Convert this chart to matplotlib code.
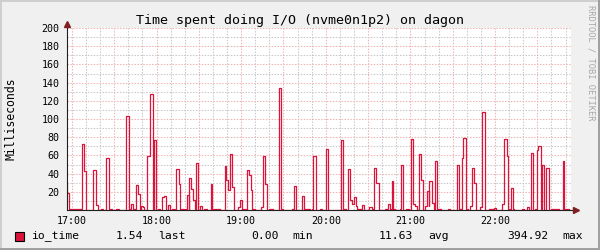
import numpy as np
import matplotlib
matplotlib.use("Agg")
import matplotlib.pyplot as plt
from matplotlib.patches import Rectangle
from matplotlib.lines import Line2D
from matplotlib.ticker import FixedLocator, FuncFormatter

# io_time samples: minutes after 17:00 where the value changes, and the value (ms)
minutes = [-4.3, -3.3, -1.9, 7.1, 8.7, 9.9, 15.1, 16.8, 18.2, 20.8, 22.2, 24.3, 26.0, 27.2, 28.4,
           31.4, 33.1, 38.3, 40.2, 41.6, 43.0, 44.2, 45.4, 46.8, 48.2, 49.1, 50.4, 51.3, 53.4,
           55.5, 57.2, 58.2, 59.6, 61.0, 62.6, 63.8, 65.0, 66.5, 68.1, 69.7, 70.9, 72.1, 72.8,
           73.8, 75.7, 76.8, 77.5, 79.2, 80.4, 81.3, 82.8, 83.2, 84.6, 86.0, 87.0, 87.9, 89.6,
           91.0, 92.4, 93.6, 95.5, 98.6, 99.5, 105.2, 108.5, 109.4, 110.6, 111.8, 113.7, 114.7,
           117.7, 119.1, 120.8, 123.2, 124.3, 125.5, 126.7, 127.4, 128.4, 129.8, 133.8, 135.5,
           136.9, 138.1, 139.7, 142.8, 146.8, 148.4, 149.6, 156.2, 157.4, 158.9, 163.1, 164.8,
           168.8, 170.4, 171.1, 172.8, 175.9, 177.1, 180.4, 181.8, 190.8, 192.4, 194.3, 195.7,
           197.0, 198.4, 199.8, 201.4, 202.3, 205.7, 207.3, 210.4, 213.0, 214.2, 215.6, 217.5,
           222.0, 224.1, 225.5, 226.7, 227.9, 229.1, 232.6, 233.3, 234.8, 236.9, 238.8, 240.4,
           242.1, 243.3, 244.5, 245.9, 247.5, 249.1, 250.6, 251.8, 253.0, 253.4, 255.1, 256.5,
           257.4, 259.1, 261.5, 266.5, 268.3, 273.0, 274.3, 275.4, 276.4, 277.5, 279.4, 280.6,
           282.1, 283.5, 284.9, 286.5, 289.4, 290.8, 293.1, 296.0, 299.1, 300.9, 305.0, 306.6,
           308.3, 309.2, 310.4, 311.3, 312.8, 313.7, 319.1, 320.8, 322.7, 324.3, 325.3, 326.7,
           328.6, 329.8, 330.7, 332.4, 333.3, 334.5, 336.4, 338.1, 339.9, 345.2, 348.0, 349.1,
           352.3]
io_time = [29, 19, 1, 73, 43, 0, 44, 5, 0, 1.5, 0, 57, 0, 1.5, 0,
           1, 0, 103, 1.5, 7, 0, 1, 28, 18, 0, 4, 3, 0, 59,
           128, 0, 77, 0, 1.5, 0, 14, 15, 0, 6, 0, 1.5, 0, 1.5,
           45, 29, 0, 1.5, 0, 1.5, 17, 0, 35, 23, 11, 0, 52, 0,
           4, 0, 1, 0, 29, 1, 0, 48, 33, 22, 61, 25, 0,
           3, 11, 1, 0, 44, 38, 22, 0, 1, 0, 3, 59,
           29, 0, 1, 0, 134, 1, 0, 1, 26, 0, 15, 1,
           0, 1.5, 59, 0, 1, 0, 67, 0, 77, 1, 0, 45,
           11, 7, 14, 4, 1, 5, 0, 3, 1, 46, 30, 0,
           1, 7, 1, 32, 1, 0, 1, 50, 0, 1.5, 0, 78,
           7, 4, 0, 61, 33, 0, 4, 21, 4, 32, 8, 1,
           54, 1, 0, 1, 0, 50, 0, 1.5, 57, 79, 1.5, 0,
           4, 46, 30, 0, 3, 108, 0, 1.5, 2, 0, 7, 78,
           59, 1, 0, 24, 1, 0, 1.5, 0, 3, 0, 63, 0,
           1.5, 66, 70, 1.5, 50, 0, 46, 0, 1, 0, 54, 1,
           1]

hour_labels = ["17:00", "18:00", "19:00", "20:00", "21:00", "22:00"]
title = "Time spent doing I/O (nvme0n1p2) on dagon"
last_val, min_val, avg_val, max_val = 1.54, 0.00, 11.63, 394.92

BACK = "#F0F0F0"
GRID = "#C8C8C8"
MGRID = "#F0B3B3"
LINE = "#DC143C"
ARROW = "#801F1F"
AXIS = "#202020"
MONO = "DejaVu Sans Mono"

W, H = 600, 250
fig = plt.figure(figsize=(W / 100, H / 100), dpi=100, facecolor=BACK)
plt.rcParams["font.family"] = MONO

# plot area in pixels
left, right, top, bottom = 66.5, 571, 28, 210
ax = fig.add_axes([left / W, 1 - bottom / H, (right - left) / W, (bottom - top) / H])
ax.set_facecolor("white")
ax.set_xlim(-3.9, 353.9)
ax.set_ylim(0, 200)
for s in ax.spines.values():
    s.set_visible(False)

# grid: minor every 10 min / 10 ms, major every 30 min / 20 ms
xmaj = np.arange(0, 360, 30)
xmin = [m for m in np.arange(0, 360, 10) if m % 30 != 0]
ymaj = np.arange(20, 201, 20)
ymin = np.arange(10, 200, 20)
dots = (0, (1.4, 1.4))
for m in xmin:
    ax.axvline(m, color=GRID, lw=0.75, ls=dots, zorder=1)
for v in ymin:
    ax.axhline(v, color=GRID, lw=0.75, ls=dots, zorder=1)
for m in xmaj:
    ax.axvline(m, color=MGRID, lw=0.75, ls=dots, zorder=1)
for v in ymaj:
    ax.axhline(v, color=MGRID, lw=0.75, ls=dots, zorder=1)

ax.xaxis.set_major_locator(FixedLocator(list(range(0, 360, 60))))
ax.xaxis.set_major_formatter(FuncFormatter(lambda m, p: hour_labels[int(m // 60)]))
ax.yaxis.set_major_locator(FixedLocator(list(ymaj)))
ax.tick_params(axis="both", length=0, labelsize=7.2, colors="black")
ax.tick_params(axis="x", pad=4)
ax.tick_params(axis="y", pad=5)

ax.step(minutes, io_time, where="post", color=LINE, lw=0.9, zorder=3)

# axes with arrows (rrdtool style)
ax.plot([0, 1.012], [0, 0], transform=ax.transAxes, color=AXIS, lw=0.8, clip_on=False, zorder=4)
ax.plot([0, 0], [0, 1.01], transform=ax.transAxes, color=AXIS, lw=0.8, clip_on=False, zorder=4)
ax.plot([1.01], [0], transform=ax.transAxes, marker=">", ms=4.5, color=ARROW, clip_on=False, zorder=5)
ax.plot([0], [1.02], transform=ax.transAxes, marker="^", ms=4.5, color=ARROW, clip_on=False, zorder=5)

fig.text(11 / W, 1 - 119 / H, "Milliseconds", rotation=90, ha="center", va="center", fontsize=8.3)
fig.text(0.5, 1 - 24 / H, title, ha="center", va="baseline", fontsize=9.6)
fig.text(590.5 / W, 1 - 5 / H, "RRDTOOL / TOBI OETIKER", rotation=270, ha="center", va="top",
         fontsize=6.3, color="#A8A8A8")

# legend line
ly = 1 - 236 / H
fig.add_artist(Rectangle((15 / W, 1 - 240.7 / H), 9 / W, 9 / H, transform=fig.transFigure,
                         facecolor=LINE, edgecolor="black", lw=0.8))
lf = 8.2
fig.text(30.7 / W, ly, "io_time", ha="left", va="center", fontsize=lf)
fig.text(143.3 / W, ly, f"{last_val:.2f}", ha="right", va="center", fontsize=lf)
fig.text(158.3 / W, ly, "last", ha="left", va="center", fontsize=lf)
fig.text(278.3 / W, ly, f"{min_val:.2f}", ha="right", va="center", fontsize=lf)
fig.text(292.7 / W, ly, "min", ha="left", va="center", fontsize=lf)
fig.text(413.5 / W, ly, f"{avg_val:.2f}", ha="right", va="center", fontsize=lf)
fig.text(428.3 / W, ly, "avg", ha="left", va="center", fontsize=lf)
fig.text(548.3 / W, ly, f"{max_val:.2f}", ha="right", va="center", fontsize=lf)
fig.text(562.7 / W, ly, "max", ha="left", va="center", fontsize=lf)

# shaded frame around the image
fig.add_artist(Line2D([0, 1], [1 - 1 / H, 1 - 1 / H], transform=fig.transFigure, color="#CFCFCF", lw=1.4))
fig.add_artist(Line2D([1 / W, 1 / W], [0, 1], transform=fig.transFigure, color="#CFCFCF", lw=1.4))
fig.add_artist(Line2D([0, 1], [1 / H, 1 / H], transform=fig.transFigure, color="#9E9E9E", lw=1.4))
fig.add_artist(Line2D([1 - 1 / W, 1 - 1 / W], [0, 1], transform=fig.transFigure, color="#9E9E9E", lw=1.4))

fig.savefig("out.png", dpi=100, facecolor=BACK)
